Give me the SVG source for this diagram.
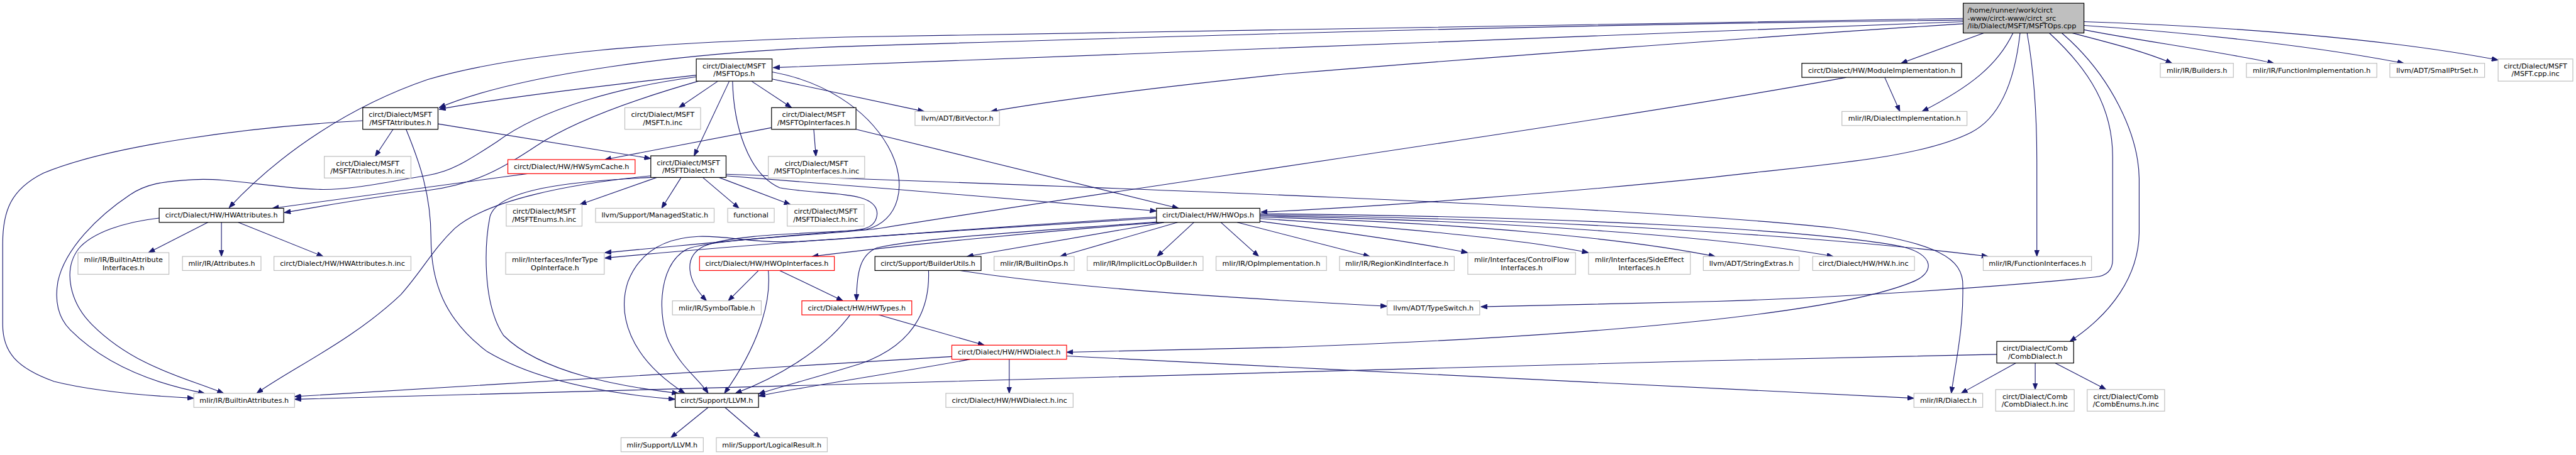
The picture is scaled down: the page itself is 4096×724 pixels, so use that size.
<svg xmlns="http://www.w3.org/2000/svg" width="4096" height="724" viewBox="0 0 4096 724">
<defs>
<style>
.e{fill:none;stroke:#191970;stroke-width:1.3;marker-end:url(#a)}
.n rect{fill:#fff;stroke-width:1.4}
.b rect{stroke:#000}
.g rect{stroke:#bfbfbf}
.r rect{stroke:#ff0000}
text{font-family:"DejaVu Sans","Liberation Sans",sans-serif;font-size:13px;fill:#000;text-anchor:middle}
</style>
<marker id="a" viewBox="0 0 12 9" refX="12" refY="4.5" markerWidth="12" markerHeight="9" markerUnits="userSpaceOnUse" orient="auto"><path d="M0,0 L12,4.5 L0,9 z" fill="#191970" stroke="#191970" stroke-width="1"/></marker>
</defs>
<rect width="4096" height="724" fill="#fff"/>
<g transform="scale(0.8609)">
<g id="connectors">
<path class="e" d="M3626,40 C3000,62 1900,110 1428,125"/>
<path class="e" d="M3626,37 C2900,45 2300,63 1590,85 C1250,95 950,140 811,199"/>
<path class="e" d="M3626,34 C2900,42 2200,55 1590,68 C1200,77 950,100 790,147 C650,195 520,280 423,384"/>
<path class="e" d="M3626,44 C3300,64 2700,110 2370,137 C2150,160 1950,185 1830,206"/>
<path class="e" d="M3664,61 L3511,117"/>
<path class="e" d="M3718,61 C3690,120 3640,160 3550,206"/>
<path class="e" d="M3731,61 C3720,160 3690,220 3640,245 C3540,295 3350,305 3160,328 C2900,355 2550,382 2329,392"/>
<path class="e" d="M3744,61 C3760,150 3762,250 3762,300 L3762,474"/>
<path class="e" d="M3785,61 C3860,130 3902,200 3902,290 L3902,480 C3902,500 3890,510 3870,512 C3700,530 3400,550 3170,557 C3000,562 2850,565 2735,567"/>
<path class="e" d="M3808,61 C3900,140 3950,250 3951,330 L3951,430 C3950,510 3900,580 3823,631"/>
<path class="e" d="M3827,61 C3900,80 3960,95 4012,117"/>
<path class="e" d="M3849,55 C3950,75 4100,95 4200,117"/>
<path class="e" d="M3849,47 C4000,57 4250,80 4440,117"/>
<path class="e" d="M3849,40 C4100,48 4400,70 4614,111"/>
<path class="e" d="M3481,143 L3509,206"/>
<path class="e" d="M3410,143 C3000,220 2000,360 1631,421 C1560,433 1320,440 1270,460 C1210,490 1215,600 1240,640 C1260,680 1290,700 1308,727"/>
<path class="e" d="M1286,139 C1100,160 900,185 811,202"/>
<path class="e" d="M1286,142 C1150,160 1000,200 918,262 C860,300 830,318 790,324 C720,335 650,352 587,350 C500,347 420,328 357,332 C300,335 270,340 240,360 C180,400 120,460 107,520 C100,560 110,590 130,610 C200,680 300,712 378,727"/>
<path class="e" d="M1290,150 C1150,190 1050,230 990,270 C930,310 880,340 790,352 C700,362 600,380 525,393"/>
<path class="e" d="M1326,150 L1254,199"/>
<path class="e" d="M1347,150 L1282,288"/>
<path class="e" d="M1388,150 L1462,199"/>
<path class="e" d="M1426,146 L1707,206"/>
<path class="e" d="M1426,133 C1520,150 1600,200 1640,270 C1680,340 1660,410 1600,424 C1520,432 1360,430 1300,455 C1260,475 1270,520 1305,556"/>
<path class="e" d="M1353,150 C1355,230 1380,320 1440,347 C1520,362 1620,350 1620,395 C1618,425 1590,425 1550,428 C1400,440 1250,455 1117,467"/>
<path class="e" d="M974,321 C800,345 620,368 503,385"/>
<path class="e" d="M726,239 L693,289"/>
<path class="e" d="M809,229 L1202,293"/>
<path class="e" d="M670,223 C450,235 200,270 80,320 C20,350 5,390 5,450 L5,600 C5,650 30,680 100,705 C180,725 280,732 358,736"/>
<path class="e" d="M750,239 C775,300 796,360 796,440 C796,520 820,590 900,650 C1000,710 1150,730 1247,738"/>
<path class="e" d="M384,411 L274,467"/>
<path class="e" d="M409,411 L409,474"/>
<path class="e" d="M440,411 L597,474"/>
<path class="e" d="M294,403 C230,410 170,430 145,460 C115,500 130,560 170,600 C250,680 350,700 413,727"/>
<path class="e" d="M1503,239 L1507,289"/>
<path class="e" d="M1425,236 L1117,295"/>
<path class="e" d="M1581,239 L2177,385"/>
<path class="e" d="M1213,328 L1071,378"/>
<path class="e" d="M1258,328 L1222,385"/>
<path class="e" d="M1298,328 L1365,385"/>
<path class="e" d="M1328,328 L1460,378"/>
<path class="e" d="M1202,325 C1050,340 900,370 840,422 C800,460 780,500 740,545 C650,630 540,680 474,727"/>
<path class="e" d="M1202,328 C1050,335 920,350 905,400 C895,450 890,560 930,620 C1000,690 1150,715 1253,727"/>
<path class="e" d="M1341,322 C2000,345 3000,380 3384,421 C3560,445 3620,470 3625,520 C3628,600 3612,670 3604,727"/>
<path class="e" d="M1341,325 C1600,345 1900,370 2136,390"/>
<path class="e" d="M2150,411 L1786,474"/>
<path class="e" d="M2175,411 L1958,474"/>
<path class="e" d="M2205,411 L2137,474"/>
<path class="e" d="M2255,411 L2325,474"/>
<path class="e" d="M2285,411 L2530,474"/>
<path class="e" d="M2327,409 C2450,425 2600,445 2711,467"/>
<path class="e" d="M2327,404 C2550,418 2800,440 2934,467"/>
<path class="e" d="M2327,401 C2700,412 3000,440 3168,474"/>
<path class="e" d="M2327,399 C2800,408 3200,440 3386,474"/>
<path class="e" d="M2327,397 C2900,405 3400,440 3672,474"/>
<path class="e" d="M2327,395 C2900,400 3350,425 3510,455 C3575,470 3575,505 3530,522 C3400,575 3000,620 2370,642 L1970,651"/>
<path class="e" d="M2140,411 C1900,430 1650,455 1500,474"/>
<path class="e" d="M2138,410 C1900,428 1700,440 1620,458 C1590,470 1582,500 1582,556"/>
<path class="e" d="M2136,403 C1700,430 1400,450 1117,477"/>
<path class="e" d="M2136,401 C1800,420 1550,445 1453,447 C1380,448 1340,435 1290,437 C1220,440 1180,470 1160,520 C1140,580 1160,660 1265,727"/>
<path class="e" d="M1401,500 L1345,556"/>
<path class="e" d="M1440,500 L1557,556"/>
<path class="e" d="M1419,500 C1425,560 1400,640 1338,727"/>
<path class="e" d="M1570,582 C1520,650 1430,700 1358,727"/>
<path class="e" d="M1623,582 L1818,638"/>
<path class="e" d="M1715,500 C1718,580 1680,640 1590,672 C1500,700 1440,715 1401,728"/>
<path class="e" d="M1773,500 C2000,535 2300,552 2562,566"/>
<path class="e" d="M1864,664 L1864,727"/>
<path class="e" d="M1792,664 C1680,685 1500,712 1401,732"/>
<path class="e" d="M1758,659 C1400,680 900,712 544,733"/>
<path class="e" d="M1970,658 C2500,685 3100,715 3535,736"/>
<path class="e" d="M3688,655 C2500,680 1200,715 544,738"/>
<path class="e" d="M3723,671 L3622,727"/>
<path class="e" d="M3759,671 L3759,720"/>
<path class="e" d="M3796,671 L3890,720"/>
<path class="e" d="M1308,753 L1239,809"/>
<path class="e" d="M1339,753 L1404,809"/>
</g>
<g id="n0" class="n b"><rect x="3626" y="6" width="223" height="55" style="fill:#bfbfbf"/><text x="3634" y="23.5" style="text-anchor:start">/home/runner/work/circt</text><text x="3634" y="38" style="text-anchor:start">-www/circt-www/circt_src</text><text x="3634" y="52.5" style="text-anchor:start">/lib/Dialect/MSFT/MSFTOps.cpp</text></g>
<g id="n1" class="n b"><rect x="1286" y="109" width="140" height="41"/><text x="1356" y="126.5">circt/Dialect/MSFT</text><text x="1356" y="141">/MSFTOps.h</text></g>
<g id="n2" class="n b"><rect x="3328" y="117" width="295" height="26"/><text x="3475.5" y="134.5">circt/Dialect/HW/ModuleImplementation.h</text></g>
<g id="n3" class="n g"><rect x="3990" y="117" width="135" height="26"/><text x="4057.5" y="134.5">mlir/IR/Builders.h</text></g>
<g id="n4" class="n g"><rect x="4149" y="117" width="241" height="26"/><text x="4269.5" y="134.5">mlir/IR/FunctionImplementation.h</text></g>
<g id="n5" class="n g"><rect x="4414" y="117" width="175" height="26"/><text x="4501.5" y="134.5">llvm/ADT/SmallPtrSet.h</text></g>
<g id="n6" class="n g"><rect x="4614" y="109" width="138" height="41"/><text x="4683" y="126.5">circt/Dialect/MSFT</text><text x="4683" y="141">/MSFT.cpp.inc</text></g>
<g id="n7" class="n b"><rect x="670" y="199" width="139" height="40"/><text x="739.5" y="216.5">circt/Dialect/MSFT</text><text x="739.5" y="231">/MSFTAttributes.h</text></g>
<g id="n8" class="n g"><rect x="1154" y="199" width="140" height="40"/><text x="1224" y="216.5">circt/Dialect/MSFT</text><text x="1224" y="231">/MSFT.h.inc</text></g>
<g id="n9" class="n b"><rect x="1425" y="199" width="156" height="40"/><text x="1503" y="216.5">circt/Dialect/MSFT</text><text x="1503" y="231">/MSFTOpInterfaces.h</text></g>
<g id="n10" class="n g"><rect x="1690" y="206" width="156" height="26"/><text x="1768" y="223.5">llvm/ADT/BitVector.h</text></g>
<g id="n11" class="n g"><rect x="3402" y="206" width="231" height="26"/><text x="3517.5" y="223.5">mlir/IR/DialectImplementation.h</text></g>
<g id="n12" class="n g"><rect x="599" y="289" width="160" height="40"/><text x="679" y="306.5">circt/Dialect/MSFT</text><text x="679" y="321">/MSFTAttributes.h.inc</text></g>
<g id="n13" class="n r"><rect x="938" y="295" width="235" height="26"/><text x="1055.5" y="312.5">circt/Dialect/HW/HWSymCache.h</text></g>
<g id="n14" class="n b"><rect x="1202" y="288" width="139" height="40"/><text x="1271.5" y="305.5">circt/Dialect/MSFT</text><text x="1271.5" y="320">/MSFTDialect.h</text></g>
<g id="n15" class="n g"><rect x="1419" y="289" width="178" height="40"/><text x="1508" y="306.5">circt/Dialect/MSFT</text><text x="1508" y="321">/MSFTOpInterfaces.h.inc</text></g>
<g id="n16" class="n b"><rect x="294" y="385" width="230" height="26"/><text x="409" y="402.5">circt/Dialect/HW/HWAttributes.h</text></g>
<g id="n17" class="n g"><rect x="935" y="378" width="140" height="40"/><text x="1005" y="395.5">circt/Dialect/MSFT</text><text x="1005" y="410">/MSFTEnums.h.inc</text></g>
<g id="n18" class="n g"><rect x="1100" y="385" width="219" height="26"/><text x="1209.5" y="402.5">llvm/Support/ManagedStatic.h</text></g>
<g id="n19" class="n g"><rect x="1344" y="385" width="86" height="26"/><text x="1387" y="402.5">functional</text></g>
<g id="n20" class="n g"><rect x="1454" y="378" width="142" height="40"/><text x="1525" y="395.5">circt/Dialect/MSFT</text><text x="1525" y="410">/MSFTDialect.h.inc</text></g>
<g id="n21" class="n b"><rect x="2136" y="385" width="191" height="26"/><text x="2231.5" y="402.5">circt/Dialect/HW/HWOps.h</text></g>
<g id="n22" class="n g"><rect x="144" y="467" width="168" height="40"/><text x="228" y="484.5">mlir/IR/BuiltinAttribute</text><text x="228" y="499">Interfaces.h</text></g>
<g id="n23" class="n g"><rect x="337" y="474" width="145" height="26"/><text x="409.5" y="491.5">mlir/IR/Attributes.h</text></g>
<g id="n24" class="n g"><rect x="506" y="474" width="253" height="26"/><text x="632.5" y="491.5">circt/Dialect/HW/HWAttributes.h.inc</text></g>
<g id="n25" class="n g"><rect x="934" y="467" width="182" height="40"/><text x="1025" y="484.5">mlir/Interfaces/InferType</text><text x="1025" y="499">OpInterface.h</text></g>
<g id="n26" class="n r"><rect x="1292" y="474" width="249" height="26"/><text x="1416.5" y="491.5">circt/Dialect/HW/HWOpInterfaces.h</text></g>
<g id="n27" class="n b"><rect x="1616" y="474" width="196" height="26"/><text x="1714" y="491.5">circt/Support/BuilderUtils.h</text></g>
<g id="n28" class="n g"><rect x="1836" y="474" width="148" height="26"/><text x="1910" y="491.5">mlir/IR/BuiltinOps.h</text></g>
<g id="n29" class="n g"><rect x="2008" y="474" width="214" height="26"/><text x="2115" y="491.5">mlir/IR/ImplicitLocOpBuilder.h</text></g>
<g id="n30" class="n g"><rect x="2246" y="474" width="204" height="26"/><text x="2348" y="491.5">mlir/IR/OpImplementation.h</text></g>
<g id="n31" class="n g"><rect x="2474" y="474" width="212" height="26"/><text x="2580" y="491.5">mlir/IR/RegionKindInterface.h</text></g>
<g id="n32" class="n g"><rect x="2711" y="467" width="199" height="40"/><text x="2810.5" y="484.5">mlir/Interfaces/ControlFlow</text><text x="2810.5" y="499">Interfaces.h</text></g>
<g id="n33" class="n g"><rect x="2934" y="467" width="188" height="40"/><text x="3028" y="484.5">mlir/Interfaces/SideEffect</text><text x="3028" y="499">Interfaces.h</text></g>
<g id="n34" class="n g"><rect x="3146" y="474" width="177" height="26"/><text x="3234.5" y="491.5">llvm/ADT/StringExtras.h</text></g>
<g id="n35" class="n g"><rect x="3348" y="474" width="188" height="26"/><text x="3442" y="491.5">circt/Dialect/HW/HW.h.inc</text></g>
<g id="n36" class="n g"><rect x="3663" y="474" width="200" height="26"/><text x="3763" y="491.5">mlir/IR/FunctionInterfaces.h</text></g>
<g id="n37" class="n g"><rect x="1242" y="556" width="164" height="26"/><text x="1324" y="573.5">mlir/IR/SymbolTable.h</text></g>
<g id="n38" class="n r"><rect x="1481" y="556" width="203" height="26"/><text x="1582.5" y="573.5">circt/Dialect/HW/HWTypes.h</text></g>
<g id="n39" class="n g"><rect x="2562" y="556" width="171" height="26"/><text x="2647.5" y="573.5">llvm/ADT/TypeSwitch.h</text></g>
<g id="n40" class="n r"><rect x="1758" y="638" width="212" height="26"/><text x="1864" y="655.5">circt/Dialect/HW/HWDialect.h</text></g>
<g id="n41" class="n b"><rect x="3688" y="631" width="142" height="40"/><text x="3759" y="648.5">circt/Dialect/Comb</text><text x="3759" y="663">/CombDialect.h</text></g>
<g id="n42" class="n g"><rect x="358" y="727" width="186" height="26"/><text x="451" y="744.5">mlir/IR/BuiltinAttributes.h</text></g>
<g id="n43" class="n b"><rect x="1247" y="727" width="154" height="26"/><text x="1324" y="744.5">circt/Support/LLVM.h</text></g>
<g id="n44" class="n g"><rect x="1747" y="727" width="235" height="26"/><text x="1864.5" y="744.5">circt/Dialect/HW/HWDialect.h.inc</text></g>
<g id="n45" class="n g"><rect x="3535" y="727" width="127" height="26"/><text x="3598.5" y="744.5">mlir/IR/Dialect.h</text></g>
<g id="n46" class="n g"><rect x="3686" y="720" width="145" height="40"/><text x="3758.5" y="737.5">circt/Dialect/Comb</text><text x="3758.5" y="752">/CombDialect.h.inc</text></g>
<g id="n47" class="n g"><rect x="3855" y="720" width="143" height="40"/><text x="3926.5" y="737.5">circt/Dialect/Comb</text><text x="3926.5" y="752">/CombEnums.h.inc</text></g>
<g id="n48" class="n g"><rect x="1147" y="809" width="152" height="26"/><text x="1223" y="826.5">mlir/Support/LLVM.h</text></g>
<g id="n49" class="n g"><rect x="1323" y="809" width="205" height="26"/><text x="1425.5" y="826.5">mlir/Support/LogicalResult.h</text></g>
</g>
</svg>
